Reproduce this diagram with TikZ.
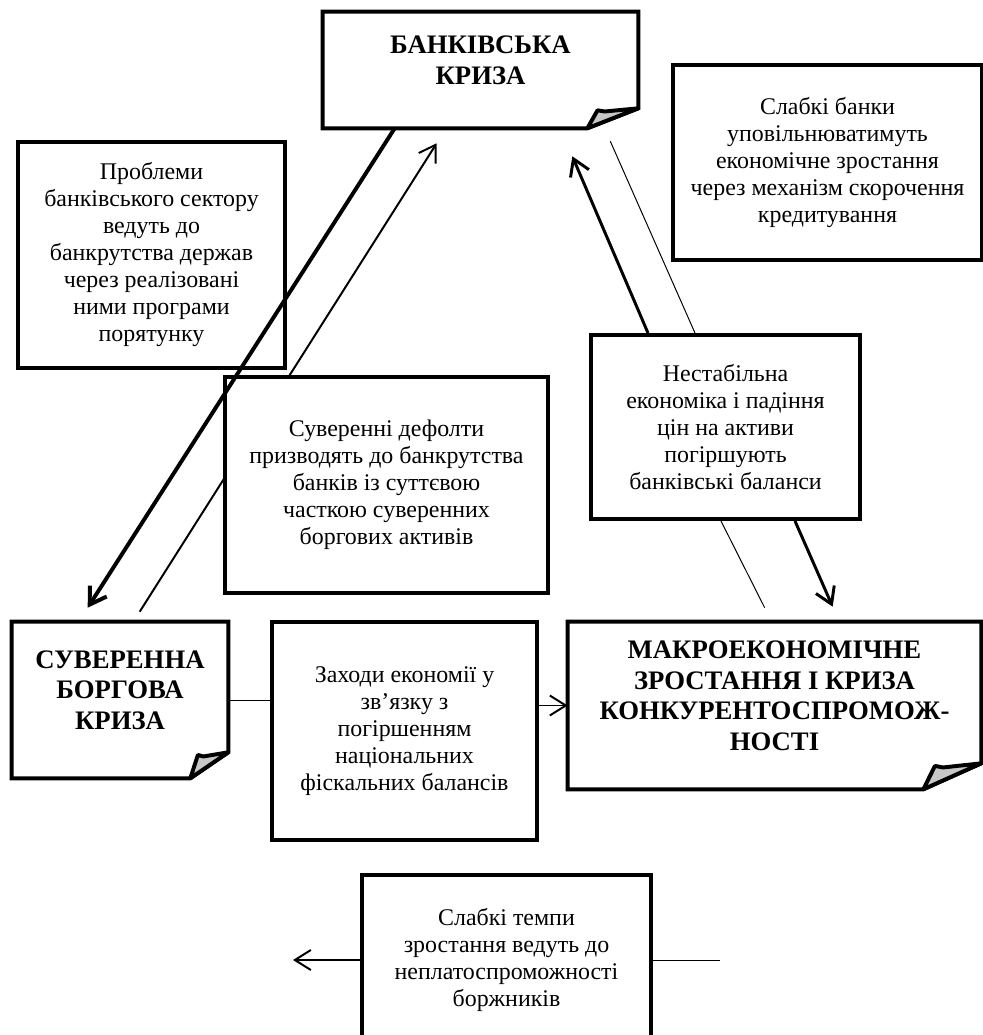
\documentclass[tikz,border=0pt]{standalone}
\usepackage{fontspec}
\setmainfont{Liberation Serif}
\usetikzlibrary{arrows.meta,calc,backgrounds}
\definecolor{flapgray}{gray}{0.78}
\tikzset{
  box/.style={draw,line width=2.8pt,fill=white,align=center,font=\fontsize{17}{19.2}\selectfont},
  notebox/.style={fill=white,align=center,text depth=0.5cm,font=\fontsize{19}{21.8}\selectfont\bfseries},
  boxline/.style={line width=2.8pt,line join=miter},
  link/.style={line width=0.7pt},
  flow/.style={line width=1.4pt,-{Straight Barb[length=4mm,width=5mm]}},
  bigflow/.style={line width=2.1pt,-{Straight Barb[length=4mm,width=5mm]}},
  heavyflow/.style={line width=2.8pt,-{Straight Barb[length=4mm,width=5mm]}}
}
\newcommand\foldnote[3]{%
  \draw[boxline](#1.north west)--(#1.north east)--($(#1.south east)+(0,-#3)$)
    --($(#1.south east)+(-#2,0)$)--(#1.south west)--cycle;
  \filldraw[boxline,line join=round,fill=flapgray]($(#1.south east)+(-#2,0)$)--++(0.2*#2,-0.9*#3)
    --++(0.14*#2,0.06*#3)--($(#1.south east)+(0,-#3)$)--cycle;}
\begin{document}
\begin{tikzpicture}[x=0.025cm,y=-0.025cm]
\useasboundingbox(0,0)rectangle(983,1035);
\node[notebox,minimum width=7.875cm,minimum height=2.9cm](bank)at(480.5,70){БАНКІВСЬКА\\КРИЗА};
\node[box,minimum width=7.725cm,minimum height=4.875cm](weak)at(827.5,162.5){Слабкі банки\\уповільнюватимуть\\економічне зростання\\через механізм скорочення\\кредитування};
\node[box,minimum width=6.675cm,minimum height=5.65cm](probl)at(151.5,255){Проблеми\\банківського сектору\\ведуть до\\банкрутства держав\\через реалізовані\\ними програми\\порятунку};
\node[box,minimum width=8.075cm,minimum height=5.4cm](defaults)at(386.5,485){Суверенні дефолти\\призводять до банкрутства\\банків із суттєвою\\часткою суверенних\\боргових активів};
\node[box,minimum width=6.725cm,minimum height=4.6cm](unstable)at(725.5,427){Нестабільна\\економіка і падіння\\цін на активи\\погіршують\\банківські баланси};
\node[notebox,minimum width=5.4cm,minimum height=3.9cm](sov)at(120,700){СУВЕРЕННА\\БОРГОВА\\КРИЗА};
\node[box,minimum width=6.625cm,minimum height=5.45cm](austerity)at(404.5,731){Заходи економії у\\зв’язку з\\погіршенням\\національних\\фіскальних балансів};
\node[notebox,minimum width=10.325cm,minimum height=4.175cm](macro)at(774.5,705.5){МАКРОЕКОНОМІЧНЕ\\ЗРОСТАННЯ І КРИЗА\\КОНКУРЕНТОСПРОМОЖ-\\НОСТІ};
\node[box,minimum width=7.225cm,minimum height=4.25cm](slow)at(506.5,960){Слабкі темпи\\зростання ведуть до\\неплатоспроможності\\боржників};
\foldnote{bank}{51}{20}
\foldnote{sov}{38}{26}
\foldnote{macro}{58}{26}
\coordinate(sovtip)at($(sov.north west)+(76,-14)$);
\coordinate(banktipl)at($(bank.south west)+(114,15)$);
\coordinate(banktipr)at($(bank.south east)+(-66,28)$);
\coordinate(macrotip)at($(macro.north west)+(265,-15)$);
\coordinate(macroend)at($(macro.north west)+(197,-14)$);
\coordinate(bankend)at($(bank.south east)+(-28,13)$);
\coordinate(sovend)at($(sov.north west)+(128,-10)$);
\coordinate(lefttip)at($(slow.west)+(-67,0)$);
\coordinate(rightend)at($(slow.east)+(67,0)$);
\begin{pgfonlayer}{background}
\draw[flow](sovend)--(banktipl);
\end{pgfonlayer}
\draw[heavyflow]($(bank.south west)+(72,0)$)--(sovtip);
\draw[bigflow]($(unstable.north west)+(59,0)$)--(banktipr);
\draw[link](bankend)--($(unstable.north west)+(106,0)$);
\draw[link]($(unstable.south west)+(132,0)$)--(macroend);
\draw[bigflow]($(unstable.south west)+(206,0)$)--(macrotip);
\draw[link](sov.east)--(sov.east-|austerity.west);
\draw[flow](austerity.east|-macro.west)--(macro.west);
\draw[flow](slow.west)--(lefttip);
\draw[link](slow.east)--(rightend);
\end{tikzpicture}
\end{document}
